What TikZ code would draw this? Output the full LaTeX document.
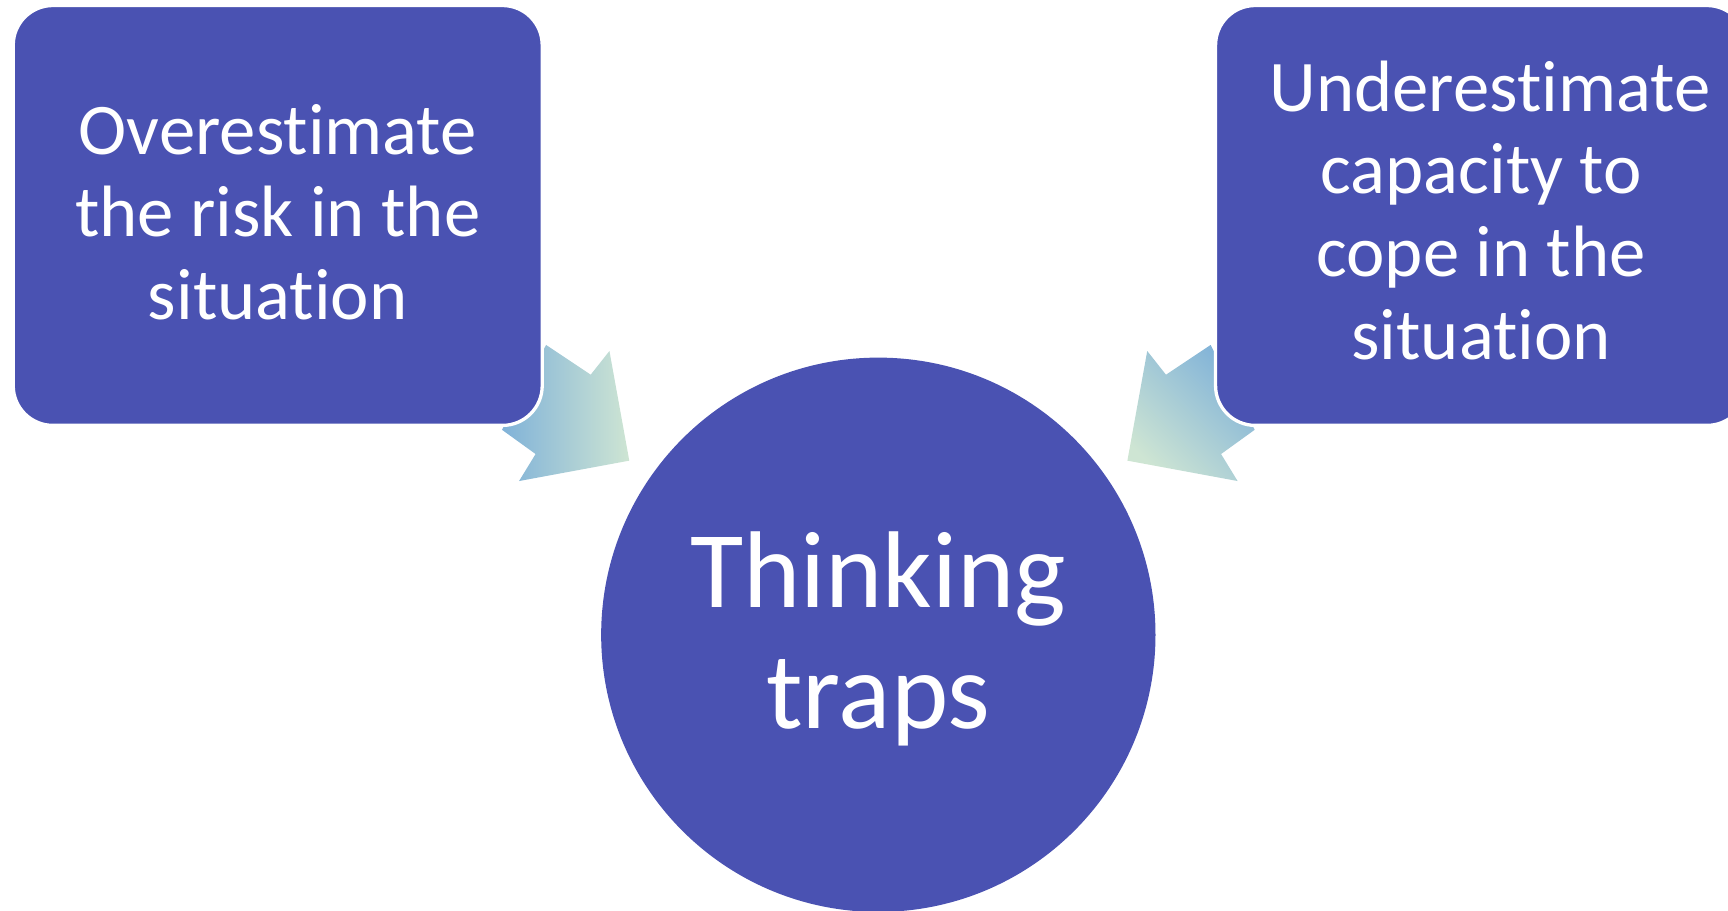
\documentclass[tikz,border=0pt]{standalone}
\usepackage{fontspec}
\setmainfont{Carlito}[Ligatures={NoCommon}]
\definecolor{boxblue}{RGB}{74,82,178}
\definecolor{arrblue}{RGB}{128,178,216}
\definecolor{arrpale}{RGB}{206,229,211}
\tikzset{
  rbox/.style={fill=boxblue, draw=white, line width=3pt, rounded corners=36pt},
  boxtext/.style={text=white, align=center, anchor=base, inner sep=0pt, font=\fontsize{66}{75}\selectfont},
  bigtext/.style={text=white, align=center, anchor=base, inner sep=0pt, font=\fontsize{99}{110}\selectfont},
}
\begin{document}
\begin{tikzpicture}[x=1pt,y=-1pt]
\useasboundingbox (0,0) rectangle (1568,826);
\begin{scope}
\clip (0,0) rectangle (1568,826);
% left arrow
\shade[left color=arrblue, right color=arrpale]
  (495.5,313) -- (536,340) -- (553,318.5) -- (571,418) -- (471,436.5) -- (486,412) -- (455.5,390) -- cycle;
% right arrow
\shade[shading=axis, top color=arrblue, bottom color=arrpale, shading angle=-45]
  (1098.5,313) -- (1058,340) -- (1041,318.5) -- (1023,418) -- (1123,436.5) -- (1108,412) -- (1138.5,390) -- cycle;
% boxes
\draw[rbox] (12,5) rectangle (492,386);
\draw[rbox] (1103,5) rectangle (1585,386);
% circle
\fill[boxblue] (797,576) circle (251.5);
\end{scope}
\node[boxtext] (left) at (252,290) {Overestimate\\the risk in the\\situation};
\node[boxtext] (right) at (1344,326) {\hspace*{16pt}Underestimate\\capacity to\\cope in the\\situation};
\node[bigtext] (center) at (797,661) {Thinking\\traps};
\end{tikzpicture}
\end{document}
